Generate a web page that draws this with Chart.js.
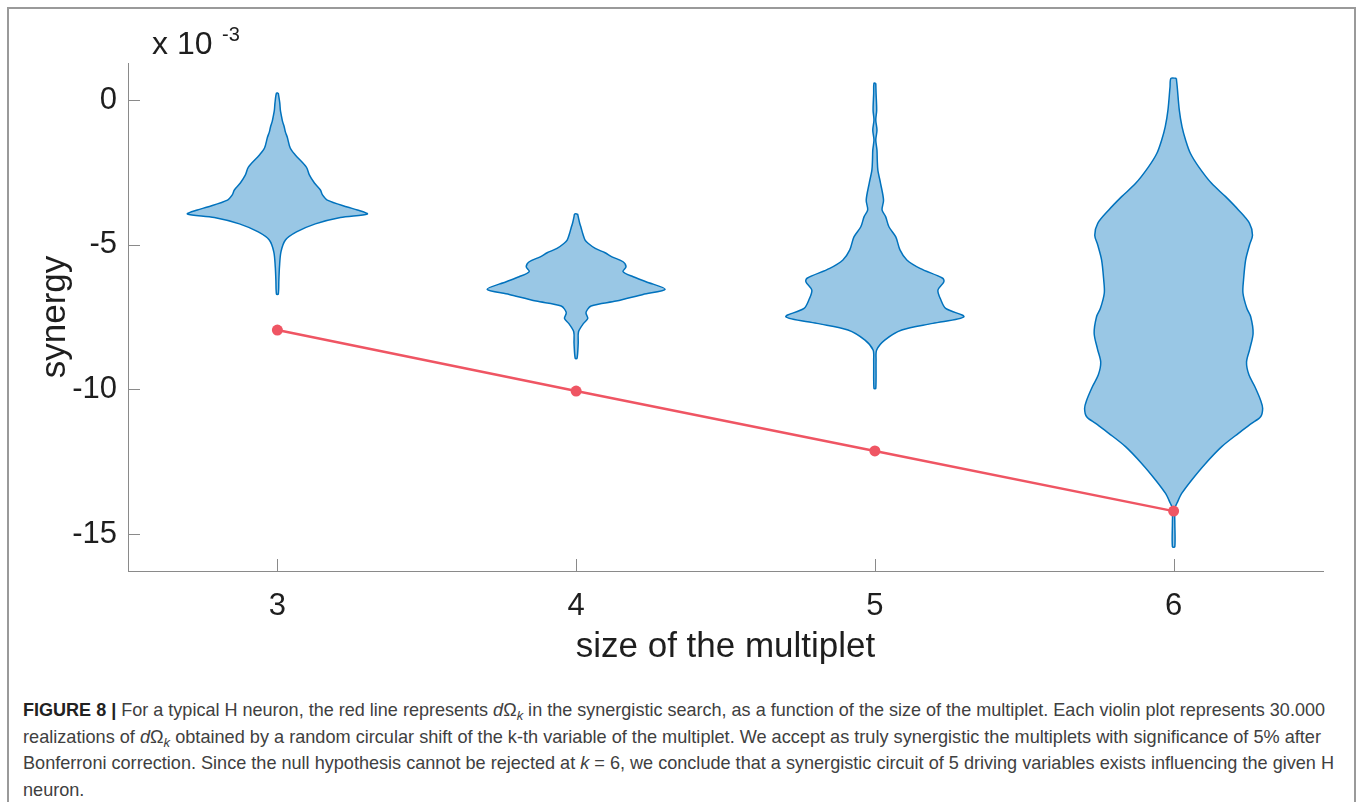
<!DOCTYPE html>
<html>
<head>
<meta charset="utf-8">
<title>synergy violin plot</title>
<script src="https://cdn.jsdelivr.net/npm/chart.js@4.4.1/dist/chart.umd.min.js"></script>
<style>
  html, body { margin: 0; padding: 0; background: #fff; }
  body { width: 1360px; height: 802px; position: relative; overflow: hidden; }
  #frame { position: absolute; left: 7px; top: 7px; width: 1349px; height: 830px; border: 2px solid #9a9a9a; box-sizing: border-box; }
  #chart { position: absolute; left: 0; top: 0; }
  #caption { position: absolute; left: 23px; top: 697px; font-family: "Liberation Sans", Arial, sans-serif; font-size: 18.5px; line-height: 26.5px; color: #404040; }
  #caption .line { white-space: nowrap; transform-origin: 0 50%; width: max-content; }
  #caption b { color: #222; }
  #caption sub { font-size: 0.72em; line-height: 0; vertical-align: -0.3em; }
</style>
</head>
<body>
<div id="frame"></div>
<canvas id="chart" width="1360" height="680"></canvas>
<div id="caption">
  <div class="line" data-w="1302"><b>FIGURE 8 |</b> For a typical H neuron, the red line represents <i>d</i>Ω<sub><i>k</i></sub> in the synergistic search, as a function of the size of the multiplet. Each violin plot represents 30.000</div>
  <div class="line" data-w="1298">realizations of <i>d</i>Ω<sub><i>k</i></sub> obtained by a random circular shift of the k-th variable of the multiplet. We accept as truly synergistic the multiplets with significance of 5% after</div>
  <div class="line" data-w="1311">Bonferroni correction. Since the null hypothesis cannot be rejected at <i>k</i> = 6, we conclude that a synergistic circuit of 5 driving variables exists influencing the given H</div>
  <div class="line">neuron.</div>
</div>
<script>
// red line: observed synergy for each multiplet size (x 10^-3)
const multipletSizes = [3, 4, 5, 6];
const observedSynergy = [-7.95, -10.06, -12.13, -14.21];

const xTicks = [3, 4, 5, 6];
const yTicks = [-15, -10, -5, 0];

// violin outlines: synergy levels (x 10^-3) and half widths (x units)
const violin3Levels = [0.24, -0.10, -0.35, -0.52, -0.73, -0.93, -1.11, -1.28, -1.66, -1.90, -2.32, -2.59, -2.87, -3.11, -3.28, -3.46, -3.70, -3.80, -3.94, -4.06, -4.28, -4.56, -4.84, -5.25, -5.77, -6.22, -6.71];
const violin3Widths = [0.003, 0.008, 0.010, 0.013, 0.017, 0.023, 0.027, 0.033, 0.043, 0.060, 0.097, 0.107, 0.124, 0.144, 0.151, 0.167, 0.234, 0.268, 0.301, 0.211, 0.127, 0.064, 0.027, 0.012, 0.007, 0.005, 0.003];

const violin4Levels = [-3.94, -4.03, -4.26, -4.43, -4.61, -4.84, -4.95, -5.13, -5.28, -5.42, -5.59, -5.76, -5.93, -6.11, -6.28, -6.54, -6.72, -6.95, -7.12, -7.35, -7.55, -7.72, -8.01, -8.41, -8.93];
const violin4Widths = [0.005, 0.007, 0.012, 0.017, 0.022, 0.030, 0.040, 0.064, 0.097, 0.120, 0.157, 0.167, 0.157, 0.191, 0.234, 0.298, 0.224, 0.134, 0.050, 0.033, 0.039, 0.025, 0.008, 0.007, 0.003];

const violin5Levels = [0.58, 0.23, -0.35, -0.69, -1.04, -1.38, -1.73, -2.07, -2.42, -2.88, -3.46, -3.80, -4.03, -4.38, -4.73, -5.18, -5.53, -5.82, -6.16, -6.28, -6.57, -6.91, -7.20, -7.49, -7.72, -7.95, -8.30, -8.64, -8.99, -9.97];
const violin5Widths = [0.003, 0.004, 0.006, 0.003, 0.007, 0.003, 0.007, 0.008, 0.010, 0.019, 0.029, 0.024, 0.036, 0.047, 0.070, 0.084, 0.107, 0.151, 0.227, 0.231, 0.211, 0.221, 0.237, 0.298, 0.194, 0.090, 0.033, 0.006, 0.004, 0.003];

const violin6Levels = [0.75, 0.46, -0.35, -0.92, -1.38, -1.84, -2.31, -2.88, -3.34, -3.80, -4.26, -4.67, -5.01, -5.53, -6.22, -6.67, -7.20, -7.49, -8.06, -8.60, -9.06, -9.50, -9.91, -10.40, -10.66, -10.95, -11.18, -11.52, -11.98, -12.56, -13.14, -13.60, -13.94, -14.11, -14.60, -15.44];
const violin6Widths = [0.009, 0.012, 0.019, 0.028, 0.040, 0.056, 0.084, 0.127, 0.174, 0.217, 0.254, 0.264, 0.254, 0.241, 0.234, 0.232, 0.245, 0.258, 0.266, 0.255, 0.244, 0.252, 0.272, 0.292, 0.298, 0.291, 0.261, 0.217, 0.161, 0.107, 0.060, 0.027, 0.011, 0.004, 0.004, 0.004];

const FONT = '"Liberation Sans", Arial, Helvetica, sans-serif';
const TEXT = '#1e1e1e';
const AXIS = '#8a8a8a';

// closed outline: down the right side, back up the left side
function violinOutline(center, levels, widths) {
  const right = levels.map((y, i) => ({ x: center + widths[i], y: y }));
  const left = levels.map((y, i) => ({ x: center - widths[i], y: y })).reverse();
  return right.concat(left, [right[0]]);
}

function violinDataset(center, levels, widths) {
  return {
    data: violinOutline(center, levels, widths),
    showLine: true,
    fill: 'shape',
    backgroundColor: 'rgba(0, 114, 189, 0.4)',
    borderColor: '#0072bd',
    borderWidth: 1.5,
    pointRadius: 0,
    tension: 0.3
  };
}

const innerTicks = {
  id: 'innerTicks',
  afterDraw(chart) {
    const { ctx, chartArea, scales } = chart;
    ctx.save();
    ctx.strokeStyle = AXIS;
    ctx.lineWidth = 1;
    ctx.beginPath();
    scales.y.ticks.forEach(t => {
      const py = Math.round(scales.y.getPixelForValue(t.value)) + 0.5;
      ctx.moveTo(chartArea.left, py);
      ctx.lineTo(chartArea.left + 12, py);
    });
    scales.x.ticks.forEach(t => {
      const px = Math.round(scales.x.getPixelForValue(t.value)) + 0.5;
      ctx.moveTo(px, chartArea.bottom);
      ctx.lineTo(px, chartArea.bottom - 12);
    });
    ctx.stroke();
    // axis multiplier
    ctx.fillStyle = TEXT;
    ctx.textBaseline = 'alphabetic';
    ctx.textAlign = 'left';
    ctx.font = '32px ' + FONT;
    ctx.fillText('x 10', 152, 54);
    ctx.font = '20px ' + FONT;
    ctx.fillText('-3', 222, 41);
    ctx.restore();
  }
};

new Chart(document.getElementById('chart'), {
  type: 'scatter',
  data: {
    datasets: [
      {
        data: multipletSizes.map((x, i) => ({ x: x, y: observedSynergy[i] })),
        showLine: true,
        borderColor: '#ef5563',
        backgroundColor: '#ef5563',
        borderWidth: 2.5,
        pointRadius: 5.5,
        pointBorderWidth: 0,
        tension: 0
      },
      violinDataset(3, violin3Levels, violin3Widths),
      violinDataset(4, violin4Levels, violin4Widths),
      violinDataset(5, violin5Levels, violin5Widths),
      violinDataset(6, violin6Levels, violin6Widths)
    ]
  },
  options: {
    responsive: false,
    animation: false,
    devicePixelRatio: 1,
    layout: { padding: { top: 63, right: 37, left: 0, bottom: 0 } },
    plugins: { legend: { display: false }, tooltip: { enabled: false } },
    scales: {
      x: {
        type: 'linear',
        min: 2.5,
        max: 6.5,
        afterBuildTicks: s => { s.ticks = xTicks.map(v => ({ value: v })); },
        afterFit: s => { s.height = 109; },
        grid: { drawOnChartArea: false, drawTicks: false },
        border: { color: AXIS, width: 1 },
        ticks: { color: TEXT, padding: 17, maxRotation: 0, font: { family: FONT, size: 31 } },
        title: { display: true, text: 'size of the multiplet', color: TEXT, font: { family: FONT, size: 35 }, padding: { top: 0, bottom: 12 } }
      },
      y: {
        type: 'linear',
        min: -16.28,
        max: 1.28,
        afterBuildTicks: s => { s.ticks = yTicks.map(v => ({ value: v })); },
        afterFit: s => { s.width = 128; },
        grid: { drawOnChartArea: false, drawTicks: false },
        border: { color: AXIS, width: 1 },
        ticks: { color: TEXT, padding: 11, font: { family: FONT, size: 31 } },
        title: { display: true, text: 'synergy', color: TEXT, font: { family: FONT, size: 35 }, padding: { top: 34, bottom: 0 } }
      }
    }
  },
  plugins: [innerTicks]
});

// squeeze caption lines to the widths of the printed figure
document.querySelectorAll('#caption .line').forEach((el, i, all) => {
  const target = Number(el.dataset.w || 0);
  const w = el.getBoundingClientRect().width;
  const s = target ? target / w : Number(all[i - 1].dataset.s);
  el.dataset.s = s;
  el.style.transform = 'scaleX(' + s + ')';
});
</script>
</body>
</html>
